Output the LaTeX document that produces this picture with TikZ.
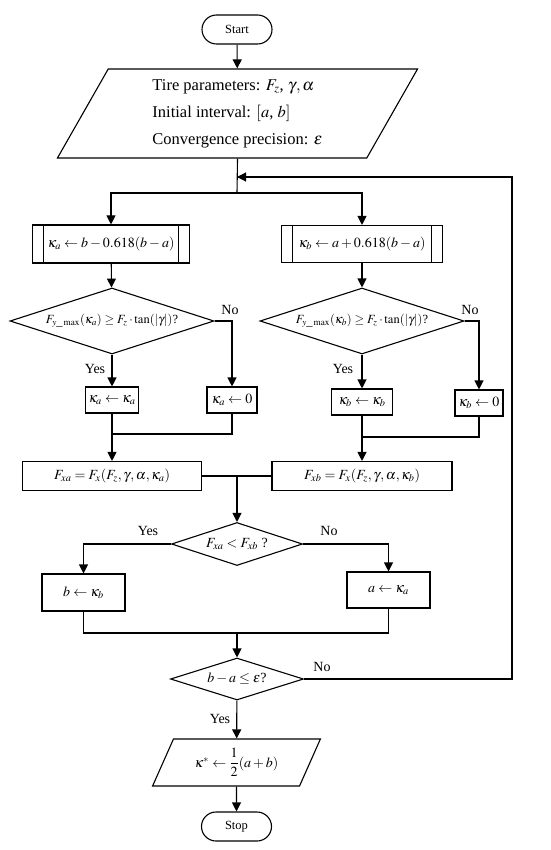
\documentclass[tikz,border=0pt]{standalone}
\usepackage{mathptmx}
\usepackage{fontspec}
\setmainfont{Liberation Serif}
\usepackage{tikz}
\usetikzlibrary{shapes.geometric,shapes.misc,arrows.meta,positioning}

\tikzset{
  every node/.style={font=\fontsize{14}{16}\selectfont},
  line/.style={line width=1.1pt},
  arr/.style={line width=1.1pt,-{Triangle[length=9pt,width=9pt]}},
  term/.style={draw,line width=1.1pt,rounded rectangle,inner sep=0pt,font=\fontsize{12.5}{14}\selectfont},
  io/.style={draw,line width=1.1pt,trapezium,trapezium left angle=64,trapezium right angle=116,
    trapezium stretches=true,inner sep=0pt},
  proc/.style={draw,line width=1.1pt,rectangle,inner sep=0pt},
  predef/.style={proc,path picture={
      \draw[line width=1.1pt] ([xshift=11pt]path picture bounding box.north west) -- ([xshift=11pt]path picture bounding box.south west);
      \draw[line width=1.1pt] ([xshift=-11pt]path picture bounding box.north east) -- ([xshift=-11pt]path picture bounding box.south east);}},
  decide/.style={draw,line width=1.1pt,diamond,inner sep=0pt},
  lbl/.style={font=\fontsize{14}{16}\selectfont,inner sep=0pt}
}

\begin{document}
\begin{tikzpicture}[x=1pt,y=-1pt]
  \useasboundingbox (0,0) rectangle (550,850);

  \node[term,minimum width=70pt,minimum height=29pt] (start) at (237,29.5) {Start};
  \node[io,minimum width=361pt,minimum height=89pt,align=left,font=\fontsize{16.5}{27}\selectfont] (inp) at (237.5,113.5)
    {Tire parameters: $F_z$, $\gamma,\alpha$\\ Initial interval: $[a$, $b]$\\ Convergence precision: $\varepsilon$};

  \coordinate (join) at (237,177);
  \coordinate (split) at (237,193);
  \coordinate (loop) at (512,177);

  \node[predef,minimum width=157pt,minimum height=38pt] (pa) at (111,244) {$\kappa_a\leftarrow b-0.618(b-a)$};
  \node[predef,minimum width=161pt,minimum height=37pt] (pb) at (362,244) {$\kappa_b\leftarrow a+0.618(b-a)$};

  \node[decide,minimum width=204pt,minimum height=66pt,font=\fontsize{12.5}{14}\selectfont] (da) at (112,321)
    {\makebox[0pt]{$F_{y\_\max}(\kappa_a)\geq F_z\cdot\tan(\left|\gamma\right|)$?}};
  \node[decide,minimum width=204pt,minimum height=66pt,font=\fontsize{12.5}{14}\selectfont] (db) at (362,321)
    {\makebox[0pt]{$F_{y\_\max}(\kappa_b)\geq F_z\cdot\tan(\left|\gamma\right|)$?}};

  \node[proc,minimum width=53pt,minimum height=26pt] (ya) at (112,400) {$\kappa_a\leftarrow\kappa_a$};
  \node[proc,minimum width=50pt,minimum height=26pt] (na) at (232,400) {$\kappa_a\leftarrow 0$};
  \node[proc,minimum width=61pt,minimum height=26pt] (yb) at (362,402) {$\kappa_b\leftarrow\kappa_b$};
  \node[proc,minimum width=48pt,minimum height=26pt] (nb) at (479,403) {$\kappa_b\leftarrow 0$};

  \coordinate (ma) at (112,434);
  \coordinate (mb) at (362,437);

  \node[proc,minimum width=179pt,minimum height=29pt] (fa) at (112,476) {$F_{xa}=F_x(F_z,\gamma,\alpha,\kappa_a)$};
  \node[proc,minimum width=180pt,minimum height=29pt] (fb) at (362,476) {$F_{xb}=F_x(F_z,\gamma,\alpha,\kappa_b)$};
  \coordinate (mf) at (237,476);

  \node[decide,minimum width=131pt,minimum height=43pt] (dc) at (237,544) {\makebox[0pt]{$F_{xa}<F_{xb}$ ?}};

  \node[proc,minimum width=83pt,minimum height=37pt] (bb) at (83.5,592.5) {$b\leftarrow\kappa_b$};
  \node[proc,minimum width=83pt,minimum height=36pt] (ab) at (388.5,590) {$a\leftarrow\kappa_a$};
  \coordinate (mc) at (237,633);

  \node[decide,minimum width=133pt,minimum height=42pt] (dd) at (237,679) {\makebox[0pt]{$b-a\leq\varepsilon$?}};

  \node[io,minimum width=168pt,minimum height=47pt] (out) at (236.5,762.5) {$\kappa^*\leftarrow\displaystyle\frac{1}{2}(a+b)$};
  \node[term,minimum width=70pt,minimum height=29pt] (stop) at (236.5,826.5) {Stop};

  \node[lbl] (noa) at (230,310) {No};
  \node[lbl] (nob) at (470,310) {No};
  \node[lbl] (yesa) at (95,369) {Yes};
  \node[lbl] (yesb) at (343,369) {Yes};
  \node[lbl] (yesc) at (148,531) {Yes};
  \node[lbl] (noc) at (329,531) {No};
  \node[lbl] (nod) at (322,667) {No};
  \node[lbl] (yesd) at (220,719) {Yes};

  \draw[arr] (start) -- (inp);
  \draw[line] (inp.south) -- (split);
  \draw[arr] (split) -| (pa);
  \draw[arr] (split) -| (pb);
  \draw[arr] (pa) -- (da);
  \draw[arr] (pb) -- (db);
  \draw[arr] (da) -- (ya);
  \draw[arr] (da.east) -| (na);
  \draw[arr] (db) -- (yb);
  \draw[arr] (db.east) -| (nb);
  \draw[line] (na) |- (ma);
  \draw[line] (nb) |- (mb);
  \draw[arr] (ya) -- (fa);
  \draw[arr] (yb) -- (fb);
  \draw[line] (fa) -- (fb);
  \draw[arr] (mf) -- (dc);
  \draw[arr] (dc.west) -| (bb);
  \draw[arr] (dc.east) -| (ab);
  \draw[line] (bb.south) |- (mc) -| (ab.south);
  \draw[arr] (mc) -- (dd);
  \draw[arr] (dd.east) -| (loop) -- (join);
  \draw[arr] (dd) -- (out);
  \draw[arr] (out) -- (stop);
\end{tikzpicture}
\end{document}
